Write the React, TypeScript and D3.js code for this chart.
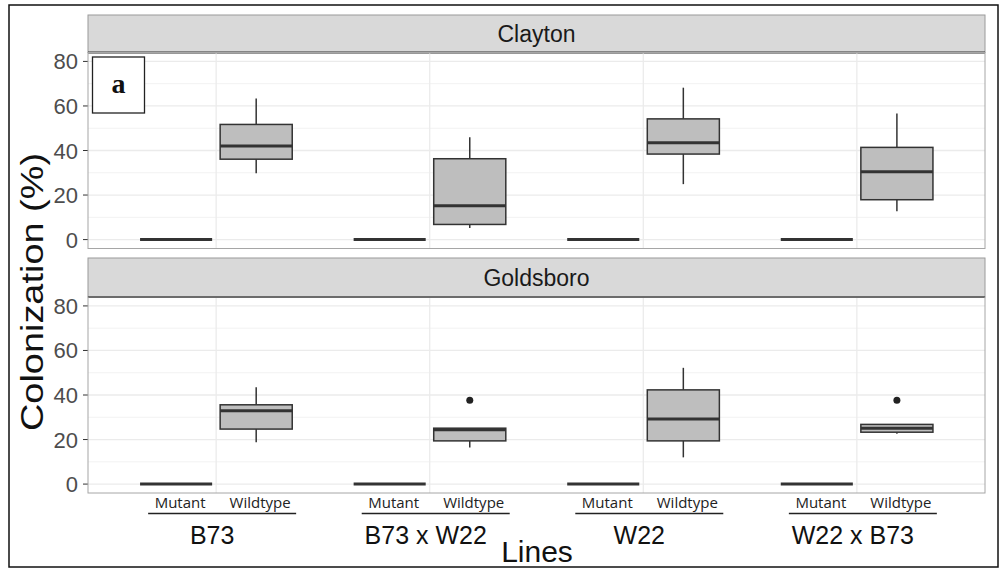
import React from "react";
import * as d3 from "d3";

// Maize lines and genotypes on the x axis
const lines = ["B73", "B73 x W22", "W22", "W22 x B73"];
const genotypes = ["Mutant", "Wildtype"];
const sites = ["Clayton", "Goldsboro"];
const yTicks = [0, 20, 40, 60, 80];
const yMinor = [10, 30, 50, 70];

// Box statistics: [whiskerLow, q1, median, q3, whiskerHigh]
const claytonMutant = [
  [0, 0, 0, 0, 0],
  [0, 0, 0, 0, 0],
  [0, 0, 0, 0, 0],
  [0, 0, 0, 0, 0],
];
const claytonWildtype = [
  [29.8, 36.1, 42.0, 51.7, 63.3],
  [5.2, 6.8, 15.2, 36.3, 45.9],
  [24.9, 38.4, 43.5, 54.2, 68.2],
  [12.7, 17.9, 30.5, 41.4, 56.6],
];
const goldsboroMutant = [
  [0, 0, 0, 0, 0],
  [0, 0, 0, 0, 0],
  [0, 0, 0, 0, 0],
  [0, 0, 0, 0, 0],
];
const goldsboroWildtype = [
  [18.8, 24.7, 32.9, 35.6, 43.5],
  [16.4, 19.4, 24.4, 25.1, 25.1],
  [12.0, 19.4, 29.2, 42.3, 52.2],
  [22.6, 23.3, 25.1, 26.8, 26.8],
];
// Outliers per site: [lineIndex, value]
const claytonOutliers: [number, number][] = [];
const goldsboroOutliers: [number, number][] = [
  [1, 37.6],
  [3, 37.6],
];

const W = 1002;
const H = 571;
const panelLeft = 88;
const panelRight = 985;
const panels = [
  { site: sites[0], stripTop: 15, top: 52.5, bottom: 248.5, mutant: claytonMutant, wildtype: claytonWildtype, outliers: claytonOutliers },
  { site: sites[1], stripTop: 258, top: 297, bottom: 493, mutant: goldsboroMutant, wildtype: goldsboroWildtype, outliers: goldsboroOutliers },
];

const x = d3.scaleBand<string>().domain(lines).range([panelLeft, panelRight]).paddingInner(0).paddingOuter(0.1);
const step = x.bandwidth();
const dodge = d3.scaleBand<string>().domain(genotypes).range([-0.375 * step, 0.375 * step]);
const boxW = dodge.bandwidth() * 0.9;
const center = (line: string) => (x(line) ?? 0) + step / 2;

const gridCol = "#EBEBEB";
const boxStroke = "#333333";
const sans = "'Liberation Sans', Arial, sans-serif";

function Box({ cx, stats, y }: { cx: number; stats: number[]; y: d3.ScaleLinear<number, number> }) {
  const [lo, q1, med, q3, hi] = stats;
  return (
    <g>
      <line x1={cx} x2={cx} y1={y(hi)} y2={y(q3)} stroke={boxStroke} strokeWidth={1.5} />
      <line x1={cx} x2={cx} y1={y(q1)} y2={y(lo)} stroke={boxStroke} strokeWidth={1.5} />
      <rect
        x={cx - boxW / 2}
        y={y(q3)}
        width={boxW}
        height={Math.max(0, y(q1) - y(q3))}
        fill="#BEBEBE"
        stroke={boxStroke}
        strokeWidth={1.5}
      />
      <line x1={cx - boxW / 2} x2={cx + boxW / 2} y1={y(med)} y2={y(med)} stroke={boxStroke} strokeWidth={3} />
    </g>
  );
}

export default function App() {
  return (
    <svg width={W} height={H} style={{ position: "absolute", left: 0, top: 0, background: "#fff" }}>
      <rect x={9} y={5} width={989} height={562} fill="#fff" stroke="#111" strokeWidth={1.5} />
      {panels.map((p) => {
        const y = d3.scaleLinear().domain([-4, 84]).range([p.bottom, p.top]);
        return (
          <g key={p.site}>
            {/* strip */}
            <rect x={panelLeft} y={p.stripTop} width={panelRight - panelLeft} height={p.top - p.stripTop} fill="#D9D9D9" stroke="#9a9a9a" strokeWidth={1} />
            <line x1={panelLeft} x2={panelRight} y1={p.top} y2={p.top} stroke="#333" strokeWidth={2} />
            <text x={(panelLeft + panelRight) / 2} y={(p.stripTop + p.top) / 2 + 8} textAnchor="middle" fontFamily={sans} fontSize={23} fill="#1A1A1A">
              {p.site}
            </text>
            {/* grid */}
            {yMinor.map((v) => (
              <line key={"m" + v} x1={panelLeft} x2={panelRight} y1={y(v)} y2={y(v)} stroke="#F2F2F2" strokeWidth={1} />
            ))}
            {yTicks.map((v) => (
              <line key={"g" + v} x1={panelLeft} x2={panelRight} y1={y(v)} y2={y(v)} stroke={gridCol} strokeWidth={1.3} />
            ))}
            {lines.map((l) => (
              <line key={"v" + l} x1={center(l)} x2={center(l)} y1={p.top + 1} y2={p.bottom} stroke={gridCol} strokeWidth={1.3} />
            ))}
            {/* y axis */}
            {yTicks.map((v) => (
              <g key={"t" + v}>
                <line x1={83} x2={panelLeft} y1={y(v)} y2={y(v)} stroke="#333" strokeWidth={1} />
                <text x={78} y={y(v) + 8} textAnchor="end" fontFamily={sans} fontSize={22} fill="#4D4D4D">
                  {v}
                </text>
              </g>
            ))}
            {/* boxes */}
            {lines.map((l, i) => (
              <g key={"b" + l}>
                <Box cx={center(l) + (dodge("Mutant") ?? 0) + dodge.bandwidth() / 2} stats={p.mutant[i]} y={y} />
                <Box cx={center(l) + (dodge("Wildtype") ?? 0) + dodge.bandwidth() / 2} stats={p.wildtype[i]} y={y} />
              </g>
            ))}
            {p.outliers.map(([i, v], k) => (
              <circle key={"o" + k} cx={center(lines[i]) + (dodge("Wildtype") ?? 0) + dodge.bandwidth() / 2} cy={y(v)} r={3.5} fill="#222" />
            ))}
            <rect x={panelLeft} y={p.top} width={panelRight - panelLeft} height={p.bottom - p.top} fill="none" stroke="#A6A6A6" strokeWidth={1} />
          </g>
        );
      })}
      {/* panel label */}
      <rect x={92.5} y={57} width={52} height={56} fill="#fff" stroke="#222" strokeWidth={1.3} />
      <text x={118.5} y={93} textAnchor="middle" fontFamily="'Liberation Serif', 'Times New Roman', serif" fontWeight="bold" fontSize={28} fill="#111">
        a
      </text>
      {/* x axis group labels */}
      {lines.map((l) => {
        const c = center(l);
        return (
          <g key={"x" + l}>
            <text x={c - 36} y={508} textAnchor="middle" fontFamily="'Open Sans', sans-serif" fontSize={15} fill="#222">
              {genotypes[0]}
            </text>
            <text x={c + 44} y={508} textAnchor="middle" fontFamily="'Open Sans', sans-serif" fontSize={15} fill="#222">
              {genotypes[1]}
            </text>
            <line x1={c - 68} x2={c + 80} y1={513.5} y2={513.5} stroke="#222" strokeWidth={1.5} />
            <text x={c - 4} y={544} textAnchor="middle" fontFamily={sans} fontSize={25} fill="#111">
              {l}
            </text>
          </g>
        );
      })}
      <text x={537} y={562} textAnchor="middle" fontFamily={sans} fontSize={30} fill="#111">
        Lines
      </text>
      <text
        transform="translate(43,292) rotate(-90)"
        textAnchor="middle"
        fontFamily={sans}
        fontSize={32}
        textLength={278}
        lengthAdjust="spacingAndGlyphs"
        fill="#111"
      >
        Colonization (%)
      </text>
    </svg>
  );
}
